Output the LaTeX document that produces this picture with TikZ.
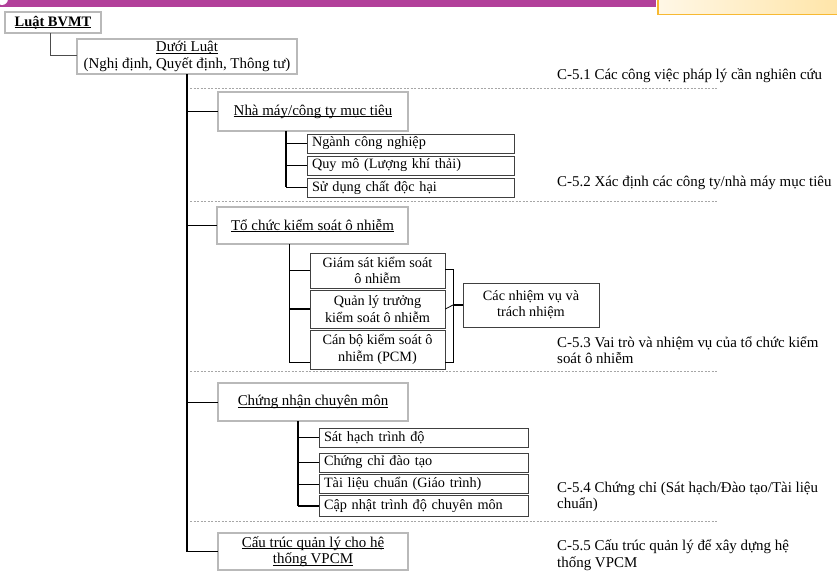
\documentclass[tikz,border=0pt]{standalone}
\usepackage{fontspec}
\setmainfont{Liberation Serif}
\definecolor{hdr}{RGB}{178,64,154}
\definecolor{creamL}{RGB}{255,247,230}
\definecolor{creamR}{RGB}{255,229,168}
\definecolor{orng}{RGB}{247,185,50}
\newcommand\myul[1]{\setbox0\hbox{#1}\rlap{\rule[-1.7bp]{\wd0}{0.7bp}}\box0}
\begin{document}
\begin{tikzpicture}[x=1bp,y=-1bp,
  font=\fontsize{15}{16.5}\selectfont,
  mainbox/.style={draw=black!78, double=gray!55, double distance=1.2bp, line width=0.7bp, fill=white, align=center, inner sep=0},
  subbox/.style={draw=black!75, line width=0.8bp, fill=white, inner xsep=5bp, inner ysep=0, align=left, font=\fontsize{14.3}{16}\selectfont},
  cbox/.style={draw=black!75, line width=0.8bp, fill=white, align=center, inner sep=0, font=\fontsize{14.3}{16.5}\selectfont},
  thinline/.style={line width=0.8bp},
  thickline/.style={line width=1.8bp},
  sepline/.style={draw=gray!70, line width=0.6bp, dash pattern=on 2bp off 1.5bp},
  note/.style={anchor=west, align=left, inner sep=0}
]
\useasboundingbox (0,0) rectangle (837,572);
% header
\fill[hdr] (0,0) rectangle (656,7);
\begin{scope}
\clip (0,0) rectangle (656,7);
\fill[white] (2,-1) circle (6);
\end{scope}
\shade[left color=creamL, right color=creamR] (658,-5) rectangle (840,14.5);
\draw[orng, line width=1.4bp] (658,-5) -- (658,14.5) -- (840,14.5);

% separators
\draw[sepline] (190,88) -- (718,88);
\draw[sepline] (190,201) -- (718,201);
\draw[sepline] (190,371) -- (718,371);
\draw[sepline] (190,521) -- (718,521);

% top nodes
\node[mainbox, minimum width=96bp, minimum height=21bp, font=\fontsize{14.5}{16}\selectfont] (luat) at (53,22.5) {\textbf{\myul{Luật BVMT}}};
\node[mainbox, minimum width=220bp, minimum height=35bp] (duoi) at (187,56.5) {\myul{Dưới Luật}\\(Nghị định, Quyết định, Thông tư)};

% level 1
\node[mainbox, minimum width=190bp, minimum height=39bp] (nha) at (313,111.5) {\myul{Nhà máy/công ty mục tiêu}};
\node[mainbox, minimum width=191bp, minimum height=37bp] (tc) at (312.5,225.5) {\myul{Tổ chức kiểm soát ô nhiễm}};
\node[mainbox, minimum width=190bp, minimum height=38bp] (cn) at (313,402) {\myul{Chứng nhận chuyên môn}};
\node[mainbox, minimum width=190bp, minimum height=37bp] (cau) at (313,551.5) {\myul{Cấu trúc quản lý cho hệ}\\\myul{thống VPCM}};

% nha sub
\node[subbox, text width=197bp, minimum height=19bp] (ng) at (410.5,143.5) {Ngành công nghiệp};
\node[subbox, text width=197bp, minimum height=19bp] (qm) at (410.5,165.5) {Quy mô (Lượng khí thải)};
\node[subbox, text width=197bp, minimum height=19bp] (sd) at (410.5,187.5) {Sử dụng chất độc hại};

% tc sub
\node[cbox, minimum width=135bp, minimum height=35bp] (gs) at (377.5,270.5) {Giám sát kiểm soát\\ô nhiễm};
\node[cbox, minimum width=135bp, minimum height=38bp] (ql) at (377.5,309) {Quản lý trưởng\\kiểm soát ô nhiễm};
\node[cbox, minimum width=135bp, minimum height=39bp] (cb) at (377.5,349.5) {Cán bộ kiểm soát ô\\nhiễm (PCM)};
\node[cbox, minimum width=136bp, minimum height=44bp] (nv) at (531,305) {Các nhiệm vụ và\\trách nhiệm};

% cn sub
\node[subbox, text width=199bp, minimum height=19bp] (sh) at (423.5,437.5) {Sát hạch trình độ};
\node[subbox, text width=199bp, minimum height=19bp] (cc) at (423.5,462.5) {Chứng chỉ đào tạo};
\node[subbox, text width=199bp, minimum height=19bp] (tl) at (423.5,484) {Tài liệu chuẩn (Giáo trình)};
\node[subbox, text width=199bp, minimum height=21bp] (cu) at (423.5,506) {Cập nhật trình độ chuyên môn};

% notes
\node[note] (n1) at (557,76) {C-5.1 Các công việc pháp lý cần nghiên cứu};
\node[note] (n2) at (557,183) {C-5.2 Xác định các công ty/nhà máy mục tiêu};
\node[note] (n3) at (557,350) {C-5.3 Vai trò và nhiệm vụ của tổ chức kiểm\\soát ô nhiễm};
\node[note] (n4) at (557,497) {C-5.4 Chứng chỉ (Sát hạch/Đào tạo/Tài liệu\\chuẩn)};
\node[note] (n5) at (557,555) {C-5.5 Cấu trúc quản lý để xây dựng hệ\\thống VPCM};

% connectors
\draw[thinline, black!70] (luat.south -| 50,0) -- (50,55) -- (duoi.west |- 0,55);
\draw[thickline] (duoi.south) -- (duoi.south |- cau.west);
\draw[thinline] (duoi.south |- nha.west) -- (nha.west);
\draw[thinline] (duoi.south |- tc.west) -- (tc.west);
\draw[thinline] (duoi.south |- cn.west) -- (cn.west);
\draw[thinline] (duoi.south |- cau.west) -- (cau.west);

\coordinate (nhaB) at (286,131);
\draw[thickline] (nhaB) -- (nhaB |- sd.west);
\draw[thinline] (nhaB |- ng.west) -- (ng.west);
\draw[thinline] (nhaB |- qm.west) -- (qm.west);
\draw[thinline] (nhaB |- sd.west) -- (sd.west);

\coordinate (tcB) at (289,244);
\coordinate (cbL) at (310,362);
\coordinate (cbR) at (445,362);
\coordinate (brT) at (453,269);
\coordinate (brB) at (453,362);
\draw[thinline] (tcB) -- (tcB |- cbL) -- (cbL);
\draw[thinline] (tcB |- gs.west) -- (gs.west);
\draw[thickline] (tcB |- ql.west) -- (ql.west);
\draw[thinline] (gs.east |- brT) -- (brT) -- (brB) -- (cbR);
\draw[thinline] (ql.east) -- (brT |- nv.west);
\draw[thickline] (brT |- nv.west) -- (nv.west);

\coordinate (cnB) at (298,421);
\draw[thickline] (cnB) -- (cnB |- cu.west);
\draw[thinline] (cnB |- sh.west) -- (sh.west);
\draw[thinline] (cnB |- cc.west) -- (cc.west);
\draw[thinline] (cnB |- tl.west) -- (tl.west);
\draw[thickline] (cnB |- cu.west) -- (cu.west);
\end{tikzpicture}
\end{document}
